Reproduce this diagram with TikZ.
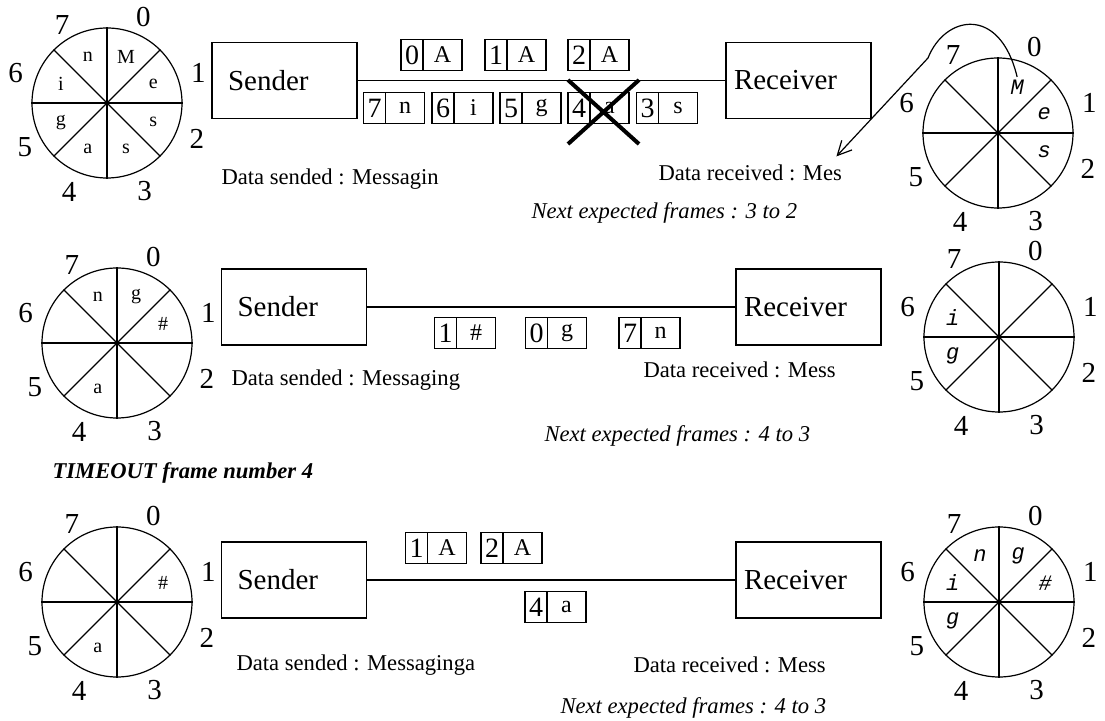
\documentclass[tikz,border=0pt]{standalone}
\usepackage{fontspec}
\setmainfont{Liberation Serif}
\newfontfamily\courfont{Liberation Mono}
\usepackage{tikz}
\usetikzlibrary{shapes, arrows.meta, positioning}

\tikzset{
  wheel/.style={circle, draw, minimum size=75pt, inner sep=0pt},
  num/.style={inner sep=1pt, font=\fontsize{14.5}{15}\selectfont},
  ltr/.style={inner sep=1pt, font=\fontsize{10}{10}\selectfont},
  rtr/.style={inner sep=1pt, font=\courfont\itshape\fontsize{11}{11}\selectfont},
  sender/.style={draw, minimum height=38pt, text width=56.5pt, inner xsep=8pt, align=left, font=\fontsize{14.5}{15}\selectfont},
  receiver/.style={draw, minimum height=38pt, text width=64.5pt, inner xsep=4pt, align=left, font=\fontsize{14.5}{15}\selectfont},
  seq/.style={draw, minimum width=11pt, minimum height=15.5pt, inner sep=0pt, outer sep=0pt, font=\fontsize{14}{14}\selectfont},
  load/.style={draw, minimum width=19.5pt, minimum height=15.5pt, inner sep=0pt, outer sep=0pt, font=\fontsize{12}{12}\selectfont},
  info/.style={anchor=west, inner sep=0pt, font=\fontsize{11.3}{12}\selectfont},
  next/.style={info, font=\itshape\fontsize{11.3}{12}\selectfont},
  alarm/.style={info, font=\bfseries\itshape\fontsize{11.3}{12}\selectfont},
}

% sliding window wheel: name, centre
\newcommand{\seqwheel}[2]{%
  \node[wheel] (#1) at #2 {};
  \draw (#1.north) -- (#1.south);
  \draw (#1.west) -- (#1.east);
  \draw (#1.north east) -- (#1.south west);
  \draw (#1.north west) -- (#1.south east);
  \foreach \k/\a/\d in {0/67/46.5, 1/18/48, 2/-22/48.5, 3/-67/48, 4/-113/48.5, 5/-152/46.5, 6/162/48, 7/120/45}
    \path (#1) ++(\a:\d pt) node[num] (#1-\k) {\k};
}
% content of one slot: wheel, slot, style, text
\newcommand{\wheelslot}[4]{%
  \path (#1) ++({67.5-45*#2}:25pt) node[#3] (#1-s#2) {#4};
}
% frame on the line: name, position, number, data
\newcommand{\packet}[4]{%
  \node[seq] (#1) at #2 {#3};
  \node[load, right=0pt of #1] (#1l) {#4};
}

\begin{document}
\begin{tikzpicture}[x=0.5pt, y=-0.5pt, line width=0.6pt]
\useasboundingbox (0,0) rectangle (1105,721);

% first exchange
\seqwheel{sw1}{(107,103)}
\wheelslot{sw1}{0}{ltr}{M}
\wheelslot{sw1}{1}{ltr}{e}
\wheelslot{sw1}{2}{ltr}{s}
\wheelslot{sw1}{3}{ltr}{s}
\wheelslot{sw1}{4}{ltr}{a}
\wheelslot{sw1}{5}{ltr}{g}
\wheelslot{sw1}{6}{ltr}{i}
\wheelslot{sw1}{7}{ltr}{n}

\node[sender] (snd1) at (284.5,80.5) {Sender};
\node[receiver] (rcv1) at (798.5,80.5) {Receiver};
\draw (snd1) -- (rcv1);

\packet{p10}{(412,55)}{0}{A}
\packet{p11}{(496,55)}{1}{A}
\packet{p12}{(579,55)}{2}{A}
\packet{p17}{(374.5,108)}{7}{n}
\packet{p16}{(443,108)}{6}{i}
\packet{p15}{(511,108)}{5}{g}
\packet{p14}{(579,108)}{4}{a}
\packet{p13}{(647.5,108)}{3}{s}
\node[cross out, draw, line width=2pt, minimum width=33.5pt, minimum height=30pt, inner sep=0pt] (lost) at (603.5,112) {};

\node[info] (sent1) at (221,179) {Data sended : Messagin};
\node[info] (got1) at (658,173) {Data received : Mes};
\node[next] (next1) at (531,213) {Next expected frames : 3 to 2};

\seqwheel{rw1}{(998,133)}
\wheelslot{rw1}{0}{rtr}{M}
\wheelslot{rw1}{1}{rtr}{e}
\wheelslot{rw1}{2}{rtr}{s}
\draw[-{Straight Barb[length=7pt,width=7pt]}] (rw1-s0.north) .. controls (1000,5) and (945,15) .. (928,58) -- ([xshift=-3pt,yshift=4pt]got1.north east);

% second exchange
\seqwheel{sw2}{(117,343)}
\wheelslot{sw2}{0}{ltr}{g}
\wheelslot{sw2}{1}{ltr}{\#}
\wheelslot{sw2}{4}{ltr}{a}
\wheelslot{sw2}{7}{ltr}{n}

\node[sender] (snd2) at (294,307) {Sender};
\node[receiver] (rcv2) at (808.5,307) {Receiver};
\draw (snd2) -- (rcv2);

\packet{p21}{(445.5,333)}{1}{\#}
\packet{p20}{(536.5,333)}{0}{g}
\packet{p27}{(630,333)}{7}{n}

\node[info] (sent2) at (231,380) {Data sended : Messaging};
\node[info] (got2) at (643,370) {Data received : Mess};
\node[next] (next2) at (544,436) {Next expected frames : 4 to 3};

\seqwheel{rw2}{(999,337)}
\wheelslot{rw2}{5}{rtr}{g}
\wheelslot{rw2}{6}{rtr}{i}

\node[alarm] (tmo) at (52,473) {TIMEOUT frame number 4};

% third exchange
\seqwheel{sw3}{(117,602)}
\wheelslot{sw3}{1}{ltr}{\#}
\wheelslot{sw3}{4}{ltr}{a}

\node[sender] (snd3) at (294,580) {Sender};
\node[receiver] (rcv3) at (808.5,580) {Receiver};
\draw (snd3) -- (rcv3);

\packet{p31}{(416.5,548)}{1}{A}
\packet{p32}{(492,548)}{2}{A}
\packet{p34}{(536,607)}{4}{a}

\node[info] (sent3) at (236,665) {Data sended : Messaginga};
\node[info] (got3) at (633,665) {Data received : Mess};
\node[next] (next3) at (560,708) {Next expected frames : 4 to 3};

\seqwheel{rw3}{(999,602)}
\wheelslot{rw3}{0}{rtr}{g}
\wheelslot{rw3}{1}{rtr}{\#}
\wheelslot{rw3}{5}{rtr}{g}
\wheelslot{rw3}{6}{rtr}{i}
\wheelslot{rw3}{7}{rtr}{n}
\end{tikzpicture}
\end{document}
